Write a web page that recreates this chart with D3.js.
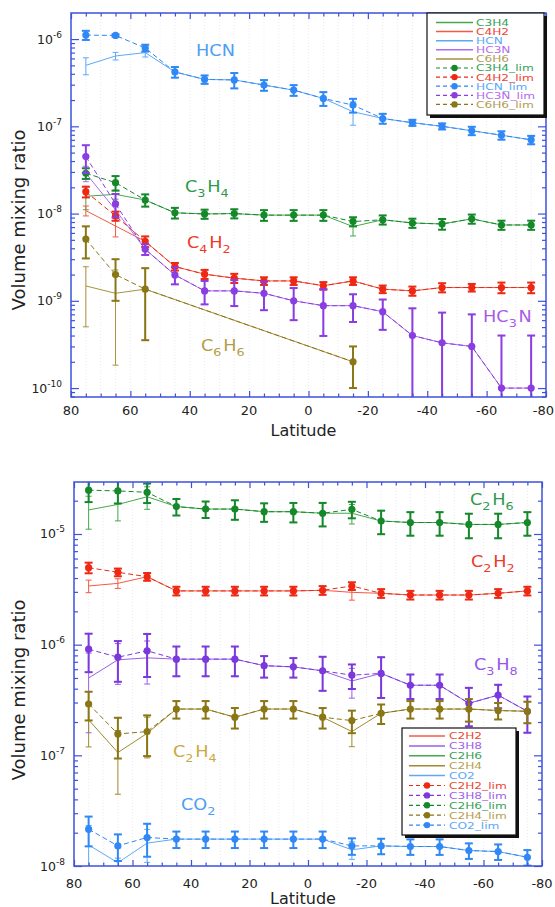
<!DOCTYPE html>
<html>
<head>
<meta charset="utf-8">
<script src="https://cdn.jsdelivr.net/npm/d3@7"></script>
<style>
  body { margin: 0; background: #fff; }
  svg { display: block; font-family: 'DejaVu Sans', sans-serif; }
</style>
</head>
<body>
<div id="chart"></div>
<script>
// latitudes of the retrieval bins
const lats = [75, 65, 55, 45, 35, 25, 15, 5, -5, -15, -25, -35, -45, -55, -65, -75];

// ---- top panel: nitriles and C3H4 / C4H2 / C6H6 ----
const hcnLim    = [1.11e-6, 1.10e-6, 7.9e-7, 4.2e-7, 3.45e-7, 3.4e-7, 2.97e-7, 2.6e-7, 2.09e-7, 1.75e-7, 1.23e-7, 1.1e-7, 1.0e-7, 8.9e-8, 7.9e-8, 7.0e-8];
const hcnLimErr = [0.12, 0.03, 0.09, 0.14, 0.11, 0.2, 0.14, 0.14, 0.18, 0.18, 0.13, 0.08, 0.08, 0.11, 0.11, 0.11];
const hcn       = [5.0e-7, 6.4e-7, 7.0e-7, 4.2e-7, 3.45e-7, 3.4e-7, 2.97e-7, 2.6e-7, 2.09e-7, 1.47e-7, 1.23e-7, 1.1e-7, 1.0e-7, 8.9e-8, 7.9e-8, 7.0e-8];
const hcnErr    = [0.22, 0.1, 0.11, 0.14, 0.11, 0.2, 0.14, 0.14, 0.18, 0.3, 0.13, 0.08, 0.08, 0.11, 0.11, 0.11];

const c3h4Lim    = [2.9e-8, 2.26e-8, 1.43e-8, 1.02e-8, 9.9e-9, 1.0e-8, 9.6e-9, 9.6e-9, 9.6e-9, 8.1e-9, 8.5e-9, 7.8e-9, 7.6e-9, 8.7e-9, 7.4e-9, 7.4e-9];
const c3h4LimErr = [0.14, 0.19, 0.16, 0.14, 0.12, 0.12, 0.14, 0.14, 0.14, 0.12, 0.12, 0.12, 0.14, 0.12, 0.12, 0.12];
const c3h4       = [1.58e-8, 1.66e-8, 1.43e-8, 1.02e-8, 9.9e-9, 1.0e-8, 9.6e-9, 9.6e-9, 9.6e-9, 7.1e-9, 8.5e-9, 7.8e-9, 7.6e-9, 8.7e-9, 7.4e-9, 7.4e-9];
const c3h4Err    = [0.3, 0.12, 0.16, 0.14, 0.12, 0.12, 0.14, 0.14, 0.14, 0.22, 0.12, 0.12, 0.14, 0.12, 0.12, 0.12];

const c4h2Lim    = [1.78e-8, 9.4e-9, 4.8e-9, 2.47e-9, 2.02e-9, 1.82e-9, 1.69e-9, 1.69e-9, 1.49e-9, 1.69e-9, 1.36e-9, 1.3e-9, 1.42e-9, 1.42e-9, 1.42e-9, 1.42e-9];
const c4h2LimErr = [0.14, 0.12, 0.14, 0.1, 0.12, 0.12, 0.1, 0.1, 0.1, 0.1, 0.1, 0.12, 0.12, 0.1, 0.14, 0.14];
const c4h2       = [1.08e-8, 7.2e-9, 4.8e-9, 2.47e-9, 2.02e-9, 1.82e-9, 1.69e-9, 1.69e-9, 1.49e-9, 1.69e-9, 1.36e-9, 1.3e-9, 1.42e-9, 1.42e-9, 1.42e-9, 1.42e-9];
const c4h2Err    = [0.13, 0.25, 0.14, 0.1, 0.12, 0.12, 0.1, 0.1, 0.1, 0.1, 0.1, 0.12, 0.12, 0.1, 0.14, 0.14];

const hc3nLim    = [4.5e-8, 1.29e-8, 3.9e-9, 1.98e-9, 1.3e-9, 1.3e-9, 1.22e-9, 1.0e-9, 8.8e-10, 8.8e-10, 7.5e-10, 4.0e-10, 3.3e-10, 3.0e-10, 1.0e-10, 1.0e-10];
const hc3nLimErr = [0.35, 0.3, 0.14, 0.22, 0.3, 0.33, 0.36, 0.4, 0.55, 0.35, 0.38, 1.05, 1.22, 1.33, 3.0, 3.0];
const hc3n       = [2.9e-8, 1.1e-8, 3.9e-9, 1.98e-9, 1.3e-9, 1.3e-9, 1.22e-9, 1.0e-9, 8.8e-10, 8.8e-10, 7.5e-10, 4.0e-10, 3.3e-10, 3.0e-10, 1.0e-10, 1.0e-10];
const hc3nErr    = [0.2, 0.2, 0.14, 0.22, 0.3, 0.33, 0.36, 0.4, 0.55, 0.35, 0.38, 1.05, 1.22, 1.33, 3.0, 3.0];

const c6h6Lim    = [5.1e-9, 2.0e-9, 1.36e-9, null, null, null, null, null, null, 2.0e-10, null, null, null, null, null, null];
const c6h6LimErr = [0.4, 0.5, 0.74, null, null, null, null, null, null, 0.5, null, null, null, null, null, null];
const c6h6       = [1.48e-9, 1.22e-9, 1.36e-9, null, null, null, null, null, null, 2.0e-10, null, null, null, null, null, null];
const c6h6Err    = [0.66, 0.85, 0.74, null, null, null, null, null, null, 0.5, null, null, null, null, null, null];

// ---- bottom panel: hydrocarbons and CO2 ----
const c2h2Lim    = [4.96e-6, 4.51e-6, 4.11e-6, 3.06e-6, 3.06e-6, 3.06e-6, 3.06e-6, 3.06e-6, 3.1e-6, 3.39e-6, 2.91e-6, 2.81e-6, 2.81e-6, 2.81e-6, 2.91e-6, 3.06e-6];
const c2h2LimErr = [0.11, 0.08, 0.08, 0.09, 0.09, 0.09, 0.09, 0.09, 0.09, 0.08, 0.09, 0.09, 0.09, 0.09, 0.09, 0.09];
const c2h2       = [3.39e-6, 3.58e-6, 4.11e-6, 3.06e-6, 3.06e-6, 3.06e-6, 3.06e-6, 3.06e-6, 3.1e-6, 2.97e-6, 2.91e-6, 2.81e-6, 2.81e-6, 2.81e-6, 2.91e-6, 3.06e-6];
const c2h2Err    = [0.13, 0.1, 0.08, 0.09, 0.09, 0.09, 0.09, 0.09, 0.09, 0.15, 0.09, 0.09, 0.09, 0.09, 0.09, 0.09];

const c3h8Lim    = [9.1e-7, 7.7e-7, 8.8e-7, 7.4e-7, 7.4e-7, 7.4e-7, 6.46e-7, 6.3e-7, 5.8e-7, 5.3e-7, 5.5e-7, 4.3e-7, 4.3e-7, 2.95e-7, 3.5e-7, 2.5e-7];
const c3h8LimErr = [0.38, 0.4, 0.42, 0.3, 0.3, 0.3, 0.22, 0.2, 0.34, 0.25, 0.4, 0.25, 0.25, 0.38, 0.24, 0.36];
const c3h8       = [5.0e-7, 7.3e-7, 7.6e-7, 7.4e-7, 7.4e-7, 7.4e-7, 6.46e-7, 6.3e-7, 5.8e-7, 4.7e-7, 5.5e-7, 4.3e-7, 4.3e-7, 2.95e-7, 3.5e-7, 2.5e-7];
const c3h8Err    = [0.68, 0.4, 0.42, 0.3, 0.3, 0.3, 0.22, 0.2, 0.34, 0.3, 0.4, 0.25, 0.25, 0.38, 0.24, 0.36];

const c2h6Lim    = [2.49e-5, 2.45e-5, 2.38e-5, 1.77e-5, 1.68e-5, 1.68e-5, 1.59e-5, 1.59e-5, 1.54e-5, 1.67e-5, 1.31e-5, 1.27e-5, 1.27e-5, 1.22e-5, 1.22e-5, 1.27e-5];
const c2h6LimErr = [0.22, 0.23, 0.2, 0.17, 0.17, 0.2, 0.19, 0.2, 0.24, 0.17, 0.24, 0.24, 0.24, 0.25, 0.25, 0.24];
const c2h6       = [1.65e-5, 1.85e-5, 2.17e-5, 1.77e-5, 1.68e-5, 1.68e-5, 1.59e-5, 1.59e-5, 1.54e-5, 1.54e-5, 1.31e-5, 1.27e-5, 1.27e-5, 1.22e-5, 1.22e-5, 1.27e-5];
const c2h6Err    = [0.33, 0.29, 0.23, 0.17, 0.17, 0.2, 0.19, 0.2, 0.24, 0.2, 0.24, 0.24, 0.24, 0.25, 0.25, 0.24];

const c2h4Lim    = [2.91e-7, 1.56e-7, 1.64e-7, 2.62e-7, 2.62e-7, 2.21e-7, 2.62e-7, 2.62e-7, 2.21e-7, 2.06e-7, 2.4e-7, 2.62e-7, 2.62e-7, 2.62e-7, 2.54e-7, 2.5e-7];
const c2h4LimErr = [0.29, 0.4, 0.4, 0.18, 0.18, 0.21, 0.18, 0.18, 0.21, 0.23, 0.2, 0.18, 0.18, 0.23, 0.17, 0.22];
const c2h4       = [2.09e-7, 1.06e-7, 1.58e-7, 2.62e-7, 2.62e-7, 2.21e-7, 2.62e-7, 2.62e-7, 2.21e-7, 1.64e-7, 2.4e-7, 2.62e-7, 2.62e-7, 2.62e-7, 2.54e-7, 2.5e-7];
const c2h4Err    = [0.43, 0.58, 0.4, 0.18, 0.18, 0.21, 0.18, 0.18, 0.21, 0.27, 0.2, 0.18, 0.18, 0.23, 0.17, 0.22];

const co2Lim    = [2.15e-8, 1.52e-8, 1.81e-8, 1.75e-8, 1.75e-8, 1.75e-8, 1.75e-8, 1.75e-8, 1.75e-8, 1.52e-8, 1.52e-8, 1.5e-8, 1.5e-8, 1.38e-8, 1.35e-8, 1.2e-8];
const co2LimErr = [0.3, 0.27, 0.33, 0.17, 0.17, 0.17, 0.17, 0.17, 0.17, 0.17, 0.16, 0.16, 0.16, 0.16, 0.16, 0.16];
const co2       = [1.55e-8, 1.07e-8, 1.61e-8, 1.75e-8, 1.75e-8, 1.75e-8, 1.75e-8, 1.75e-8, 1.75e-8, 1.4e-8, 1.52e-8, 1.5e-8, 1.5e-8, 1.38e-8, 1.35e-8, 1.2e-8];
const co2Err    = [0.5, 0.1, 0.33, 0.17, 0.17, 0.17, 0.17, 0.17, 0.17, 0.18, 0.16, 0.16, 0.16, 0.16, 0.16, 0.16];

// colours (solid retrieval line, _lim line/markers, legend text, label)
const green  = { solid: '#46a84c', lim: '#15892a', text: '#35a358', label: '#2f9a4c' };
const red    = { solid: '#f35a44', lim: '#ee2812', text: '#ee4634', label: '#ee3a28' };
const blue   = { solid: '#5ea8f8', lim: '#2f88f5', text: '#5aa8fa', label: '#4d9ef5' };
const purple = { solid: '#ad6cef', lim: '#8a3de0', text: '#b56aee', label: '#a85ce6' };
const purple2 = { solid: '#9a5fea', lim: '#7a38dd', text: '#9c5eec', label: '#9a55ea' };
const olive  = { solid: '#a8923c', lim: '#8a7615', text: '#b09d55', label: '#b39e48' };
const olive2 = { solid: '#a08a2c', lim: '#8a7615', text: '#b7a050', label: '#cba943' };

const W = 555, H = 907;
const svg = d3.select('#chart').append('svg')
  .attr('width', W)
  .attr('height', H);

const frameColor = '#3d52dc';

const panels = [
  {
    id: 'top', left: 71, right: 546, top: 13, bottom: 397,
    yDomain: [7.9e-11, 1.99e-6], yLabelY: 220, xTickY: 415, xTitleY: 436,
    series: [
      { name: 'C3H4', c: green,  v: c3h4, e: c3h4Err, lv: c3h4Lim, le: c3h4LimErr },
      { name: 'C4H2', c: red,    v: c4h2, e: c4h2Err, lv: c4h2Lim, le: c4h2LimErr },
      { name: 'HCN',  c: blue,   v: hcn,  e: hcnErr,  lv: hcnLim,  le: hcnLimErr },
      { name: 'HC3N', c: purple, v: hc3n, e: hc3nErr, lv: hc3nLim, le: hc3nLimErr },
      { name: 'C6H6', c: olive,  v: c6h6, e: c6h6Err, lv: c6h6Lim, le: c6h6LimErr }
    ],
    labels: [
      { t: 'HCN', x: 196, y: 56, c: blue.label },
      { t: 'C{3}H{4}', x: 185, y: 192, c: green.label },
      { t: 'C{4}H{2}', x: 187, y: 248, c: red.label },
      { t: 'C{6}H{6}', x: 201, y: 351, c: olive.label },
      { t: 'HC{3}N', x: 483, y: 322, c: purple.label }
    ],
    legend: { x: 427, y: 13, w: 117, h: 102, l0: 436, l1: 473, tx: 476, r0: 22.5, dr: 9.1 }
  },
  {
    id: 'bot', left: 74, right: 542, top: 482, bottom: 866,
    yDomain: [1e-8, 2.95e-5], yLabelY: 690, xTickY: 888, xTitleY: 904,
    series: [
      { name: 'C2H2', c: red,     v: c2h2, e: c2h2Err, lv: c2h2Lim, le: c2h2LimErr },
      { name: 'C3H8', c: purple2, v: c3h8, e: c3h8Err, lv: c3h8Lim, le: c3h8LimErr },
      { name: 'C2H6', c: green,   v: c2h6, e: c2h6Err, lv: c2h6Lim, le: c2h6LimErr },
      { name: 'C2H4', c: olive2,  v: c2h4, e: c2h4Err, lv: c2h4Lim, le: c2h4LimErr },
      { name: 'CO2',  c: blue,    v: co2,  e: co2Err,  lv: co2Lim,  le: co2LimErr }
    ],
    labels: [
      { t: 'C{2}H{6}', x: 470, y: 505, c: green.label },
      { t: 'C{2}H{2}', x: 471, y: 567, c: red.label },
      { t: 'C{3}H{8}', x: 474, y: 670, c: purple2.label },
      { t: 'C{2}H{4}', x: 173, y: 757, c: olive2.label },
      { t: 'CO{2}', x: 181, y: 810, c: blue.label }
    ],
    legend: { x: 402, y: 728, w: 114, h: 107, l0: 409, l1: 445, tx: 449, r0: 736, dr: 9.9 }
  }
];

// text with sub-scripts written as C{3}H{4}
function subText(g, str, x, y, size, color, sx) {
  const t = g.append('text')
    .attr('transform', `translate(${x},${y}) scale(${sx},1)`)
    .attr('fill', color)
    .style('font-size', size + 'px');
  str.split(/(\{[^}]*\})/).filter(s => s.length).forEach(part => {
    if (part[0] === '{') {
      t.append('tspan').attr('dy', 5).style('font-size', (size * 0.72) + 'px').text(part.slice(1, -1));
      t.append('tspan').attr('dy', -5).text('\u200a');
    } else {
      t.append('tspan').text(part);
    }
  });
}

function drawSeries(g, x, y, dMin, vals, errs, color, lim) {
  const pts = lats.map((lat, i) => ({ lat, v: vals[i], e: errs[i] })).filter(d => d.v != null);
  const line = d3.line().x(d => x(d.lat)).y(d => y(d.v));
  g.append('path').datum(pts)
    .attr('d', line)
    .attr('fill', 'none')
    .attr('stroke', color)
    .attr('stroke-width', 1)
    .attr('stroke-dasharray', lim ? '5,3' : null);

  const bars = g.append('g').attr('stroke', color).attr('stroke-width', lim ? 2 : 1);
  const cw = lim ? 4 : 3;
  pts.forEach(d => {
    const cx = x(d.lat);
    const hi = y(d.v * (1 + d.e));
    const loV = d.v * (1 - d.e);
    const lo = loV > dMin ? y(loV) : y(dMin) + 20;
    bars.append('line').attr('x1', cx).attr('x2', cx).attr('y1', hi).attr('y2', lo);
    bars.append('line').attr('x1', cx - cw).attr('x2', cx + cw).attr('y1', hi).attr('y2', hi);
    bars.append('line').attr('x1', cx - cw).attr('x2', cx + cw).attr('y1', lo).attr('y2', lo);
  });

  if (lim) {
    g.append('g').selectAll('circle')
      .data(pts)
      .join('circle')
      .attr('cx', d => x(d.lat))
      .attr('cy', d => y(d.v))
      .attr('r', 3.6)
      .attr('fill', color);
  }
}

panels.forEach(p => {
  const x = d3.scaleLinear().domain([80, -80]).range([p.left, p.right]);
  const y = d3.scaleLog().domain(p.yDomain).range([p.bottom, p.top]);
  const dMin = p.yDomain[0];

  svg.append('clipPath').attr('id', 'clip-' + p.id)
    .append('rect')
    .attr('x', p.left).attr('y', p.top)
    .attr('width', p.right - p.left).attr('height', p.bottom - p.top);

  // faint dotted grid
  const grid = svg.append('g').attr('stroke', '#dfe1ee').attr('stroke-dasharray', '1,2').attr('stroke-width', 0.7);
  d3.range(-75, 80, 5).forEach(v => {
    grid.append('line').attr('x1', x(v)).attr('x2', x(v)).attr('y1', p.top).attr('y2', p.bottom);
  });

  const plot = svg.append('g').attr('clip-path', `url(#clip-${p.id})`);
  // solid retrievals below, _lim retrievals above
  p.series.forEach(s => drawSeries(plot, x, y, dMin, s.v, s.e, s.c.solid, false));
  p.series.forEach(s => drawSeries(plot, x, y, dMin, s.lv, s.le, s.c.lim, true));

  // axes: inward ticks on all four sides
  const xMajor = d3.range(-80, 81, 20);
  const xMinor = d3.range(-75, 80, 5).filter(v => v % 20 !== 0);
  const lo = Math.floor(Math.log10(p.yDomain[0])), hi = Math.ceil(Math.log10(p.yDomain[1]));
  const decades = d3.range(lo, hi + 1).map(k => Math.pow(10, k)).filter(v => v >= dMin * 0.999 && v <= p.yDomain[1]);
  const yMinor = [];
  d3.range(lo, hi + 1).forEach(k => {
    for (let m = 2; m <= 9; m++) {
      const v = m * Math.pow(10, k);
      if (v > p.yDomain[0] && v < p.yDomain[1]) yMinor.push(v);
    }
  });

  const axes = [
    [d3.axisBottom(x).tickValues(xMajor).tickSize(-6), `translate(0,${p.bottom})`],
    [d3.axisBottom(x).tickValues(xMinor).tickSize(-3.5), `translate(0,${p.bottom})`],
    [d3.axisTop(x).tickValues(xMajor).tickSize(-6), `translate(0,${p.top})`],
    [d3.axisTop(x).tickValues(xMinor).tickSize(-3.5), `translate(0,${p.top})`],
    [d3.axisLeft(y).tickValues(decades).tickSize(-8), `translate(${p.left},0)`],
    [d3.axisLeft(y).tickValues(yMinor).tickSize(-4), `translate(${p.left},0)`],
    [d3.axisRight(y).tickValues(decades).tickSize(-8), `translate(${p.right},0)`],
    [d3.axisRight(y).tickValues(yMinor).tickSize(-4), `translate(${p.right},0)`]
  ];
  axes.forEach(([ax, tr]) => {
    const a = svg.append('g').attr('transform', tr).call(ax.tickFormat(''));
    a.select('.domain').remove();
    a.selectAll('.tick line').attr('stroke', frameColor).attr('stroke-width', 1.2);
  });

  svg.append('rect')
    .attr('x', p.left).attr('y', p.top)
    .attr('width', p.right - p.left).attr('height', p.bottom - p.top)
    .attr('fill', 'none')
    .attr('stroke', frameColor)
    .attr('stroke-width', 1.5);

  // x tick labels (the last one is kept inside the page)
  xMajor.forEach(v => {
    const edge = x(v) + 11 > W - 1;
    svg.append('text')
      .attr('x', edge ? W - 1 : x(v)).attr('y', p.xTickY)
      .attr('text-anchor', edge ? 'end' : 'middle')
      .style('font-size', '13px')
      .attr('fill', '#222')
      .text(v);
  });
  // y tick labels 10^n
  decades.forEach(v => {
    const t = svg.append('text')
      .attr('x', p.left - 9).attr('y', y(v) + 4.5)
      .attr('text-anchor', 'end')
      .attr('fill', '#222')
      .style('font-size', '12.5px');
    t.append('tspan').text('10');
    t.append('tspan').attr('dy', -6).style('font-size', '9px').text(Math.round(Math.log10(v)));
  });

  svg.append('text')
    .attr('x', (p.left + p.right) / 2 - 5).attr('y', p.xTitleY)
    .attr('text-anchor', 'middle')
    .style('font-size', '16px')
    .attr('fill', '#222')
    .text('Latitude');
  svg.append('text')
    .attr('transform', `translate(25,${p.yLabelY}) rotate(-90)`)
    .attr('text-anchor', 'middle')
    .style('font-size', '18px')
    .attr('fill', '#222')
    .text('Volume mixing ratio');

  // species labels inside the plot
  p.labels.forEach(l => subText(svg, l.t, l.x, l.y, 15, l.c, 1.18));

  // legend box with drop shadow
  const L = p.legend;
  const leg = svg.append('g');
  leg.append('rect').attr('x', L.x + 3).attr('y', L.y + 3).attr('width', L.w).attr('height', L.h).attr('fill', '#111');
  leg.append('rect').attr('x', L.x).attr('y', L.y).attr('width', L.w).attr('height', L.h)
    .attr('fill', '#fff').attr('stroke', '#111').attr('stroke-width', 1.2);
  const rows = p.series.map(s => ({ name: s.name, color: s.c.solid, text: s.c.text, lim: false }))
    .concat(p.series.map(s => ({ name: s.name + '_lim', color: s.c.lim, text: s.c.text, lim: true })));
  rows.forEach((r, i) => {
    const ry = L.r0 + i * L.dr;
    leg.append('line')
      .attr('x1', L.l0).attr('x2', L.l1).attr('y1', ry).attr('y2', ry)
      .attr('stroke', r.color).attr('stroke-width', r.lim ? 1.2 : 1.5)
      .attr('stroke-dasharray', r.lim ? '4,3' : null);
    if (r.lim) {
      leg.append('circle').attr('cx', (L.l0 + L.l1) / 2).attr('cy', ry).attr('r', 3.2).attr('fill', r.color);
    }
    leg.append('text')
      .attr('transform', `translate(${L.tx},${ry + 3.4}) scale(1.28,1)`)
      .attr('fill', r.text)
      .style('font-size', '9.5px')
      .text(r.name);
  });
});
</script>
</body>
</html>
